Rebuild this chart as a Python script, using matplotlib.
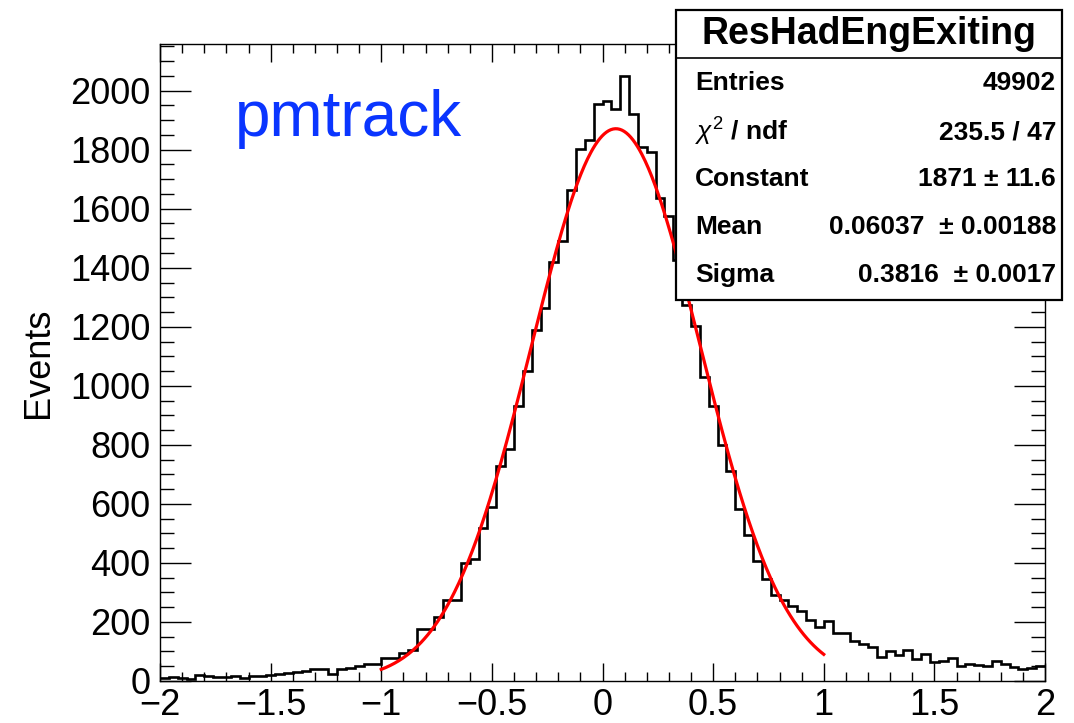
import numpy as np
import matplotlib
matplotlib.use("Agg")
import matplotlib.pyplot as plt
from matplotlib.patches import Rectangle
from matplotlib.ticker import MultipleLocator, FuncFormatter

plt.rcParams["font.family"] = ["Liberation Sans", "DejaVu Sans"]
plt.rcParams["mathtext.fontset"] = "custom"
plt.rcParams["mathtext.rm"] = "Liberation Sans"
plt.rcParams["mathtext.it"] = "Liberation Sans:italic"
plt.rcParams["mathtext.bf"] = "Liberation Sans:bold"

# histogram: 100 bins from -2 to 2
x_min, x_max, n_bins = -2.0, 2.0, 100
counts = [
    11, 14, 10, 8, 20, 18, 15, 12, 18, 11,
    16, 18, 20, 24, 27, 29, 34, 41, 41, 25,
    42, 45, 52, 56, 58, 77, 77, 95, 105, 177,
    177, 218, 275, 275, 399, 412, 518, 591, 729, 785,
    933, 1051, 1190, 1263, 1421, 1489, 1664, 1802, 1834, 1956,
    1965, 1939, 2051, 1921, 1809, 1792, 1636, 1574, 1425, 1275,
    1201, 1030, 930, 801, 712, 582, 495, 408, 345, 292,
    275, 254, 237, 207, 183, 204, 162, 161, 135, 125,
    115, 83, 101, 87, 106, 75, 90, 64, 67, 77,
    52, 59, 55, 50, 67, 59, 47, 40, 45, 52,
]

# gaussian fit result (from the stats box), fit range -1..1
fit_const = 1871
fit_mean = 0.06037
fit_sigma = 0.3816
fit_range = (-1.0, 1.0)

stats_title = "ResHadEngExiting"
stats_labels = ["Entries", r"$\chi^{2}$ / ndf", "Constant", "Mean", "Sigma"]
stats_values = ["49902", "235.5 / 47", "1871 ± 11.6", "0.06037  ± 0.00188", "0.3816  ± 0.0017"]

W, H = 1074, 723
fig = plt.figure(figsize=(W / 100, H / 100), dpi=100)


def fx(px):
    return px / W


def fy(py):
    return 1 - py / H


ax = fig.add_axes([fx(160), fy(681), fx(1045) - fx(160), fy(44) - fy(681)])

edges = np.linspace(x_min, x_max, n_bins + 1)
ax.stairs(counts, edges, color="black", linewidth=1.9, baseline=None)

xf = np.linspace(fit_range[0], fit_range[1], 400)
yf = fit_const * np.exp(-0.5 * ((xf - fit_mean) / fit_sigma) ** 2)
ax.plot(xf, yf, color="#ff0000", linewidth=2.3)

ax.set_xlim(x_min, x_max)
ax.set_ylim(0, 2158)

ax.xaxis.set_major_locator(MultipleLocator(0.5))
ax.xaxis.set_minor_locator(MultipleLocator(0.1))
ax.yaxis.set_major_locator(MultipleLocator(200))
ax.yaxis.set_minor_locator(MultipleLocator(50))
ax.xaxis.set_major_formatter(FuncFormatter(lambda v, p: f"{v:g}".replace("-", "\u2212")))

ax.tick_params(which="both", direction="in", top=True, right=True,
               labelsize=26, width=1.0, color="black")
ax.tick_params(axis="x", which="major", length=13, pad=5)
ax.tick_params(axis="x", which="minor", length=6.5)
ax.tick_params(axis="y", which="major", length=22, pad=7)
ax.tick_params(axis="y", which="minor", length=10)

for sp in ax.spines.values():
    sp.set_linewidth(1.0)

ax.set_ylabel("Events", fontsize=26, labelpad=10)

ax.text(0.085, 0.883, "pmtrack", transform=ax.transAxes, color="#0a35ff",
        fontsize=46, ha="left", va="center")

# stats box
box_l, box_r, box_t, box_b = 676, 1062, 10, 300
fig.add_artist(Rectangle((fx(box_l), fy(box_b)), fx(box_r) - fx(box_l),
                         fy(box_t) - fy(box_b), transform=fig.transFigure,
                         facecolor="white", edgecolor="black", linewidth=1.6,
                         zorder=10))
fig.add_artist(plt.Line2D([fx(box_l), fx(box_r)], [fy(58), fy(58)],
                          transform=fig.transFigure, color="black",
                          linewidth=1.2, zorder=11))
fig.text(fx((box_l + box_r) / 2), fy(34), stats_title, fontsize=27,
         fontweight="bold", ha="center", va="center", zorder=12)

row_y = [83, 132, 179, 227, 275]
for lab, val, py in zip(stats_labels, stats_values, row_y):
    fig.text(fx(695), fy(py), lab, fontsize=19, fontweight="bold",
             ha="left", va="center", zorder=12)
    fig.text(fx(1056), fy(py), val, fontsize=19, fontweight="bold",
             ha="right", va="center", zorder=12)

fig.savefig("out.png", dpi=100)
